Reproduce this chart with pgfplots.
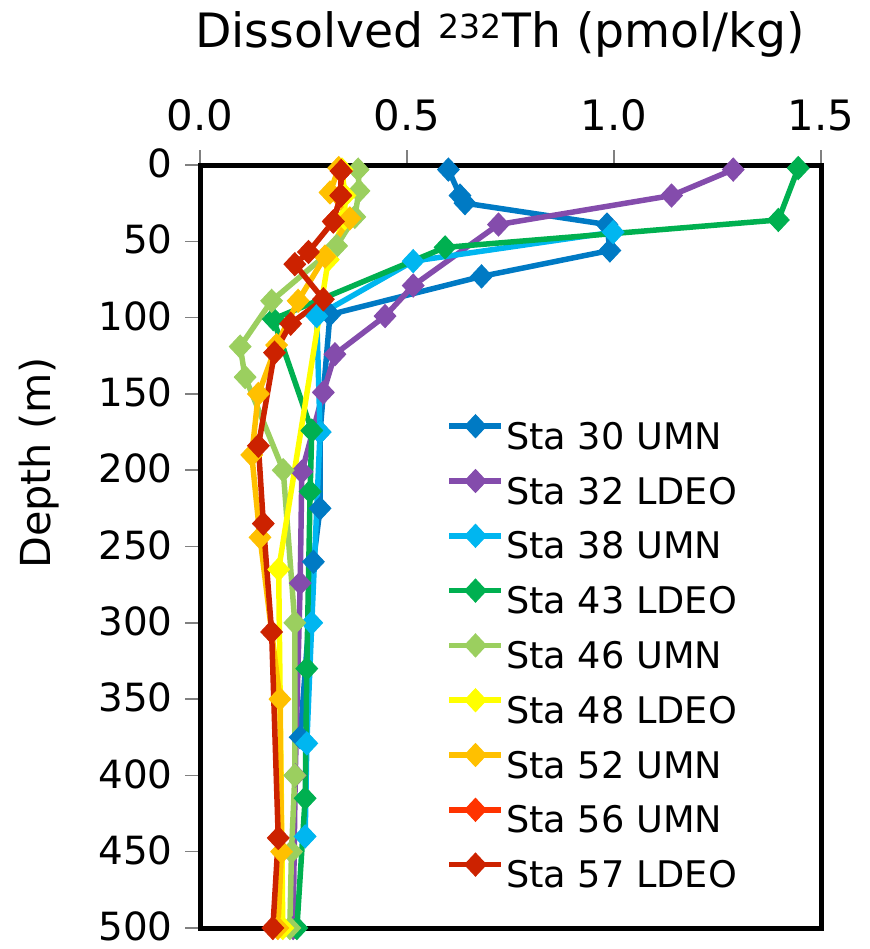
\documentclass[border=0pt]{standalone}
\usepackage{fontspec}
\setmainfont{DejaVu Sans}
\usepackage{pgfplots}
\pgfplotsset{compat=1.18}
\definecolor{c30}{RGB}{0,122,196}
\definecolor{c32}{RGB}{132,76,172}
\definecolor{c38}{RGB}{0,182,240}
\definecolor{c43}{RGB}{0,176,80}
\definecolor{c46}{RGB}{155,207,95}
\definecolor{c48}{RGB}{255,255,0}
\definecolor{c52}{RGB}{255,192,0}
\definecolor{c56}{RGB}{255,51,0}
\definecolor{c57}{RGB}{204,34,0}
\begin{document}
\begin{tikzpicture}
\path[use as bounding box] (0,0) rectangle (870bp,949bp);
\begin{axis}[
  at={(200bp,21bp)}, anchor=south west,
  scale only axis, width=621bp, height=763bp,
  xmin=0, xmax=1.5, ymin=0, ymax=500, y dir=reverse,
  clip=false,
  axis line style={line width=5bp, black},
  xtick={0,0.5,1,1.5}, ytick={0,50,...,500},
  xtick pos=right, xticklabel pos=right, ytick pos=left,
  tick align=outside, major tick length=15bp,
  tick style={line width=1.5bp, color=gray},
  xticklabel style={/pgf/number format/.cd, fixed, fixed zerofill, precision=1, /tikz/.cd, yshift=15bp, font=\fontsize{42}{50}\selectfont},
  yticklabel style={xshift=-9bp, yshift=1.5bp, font=\fontsize{39}{47}\selectfont},
  /pgf/number format/assume math mode=true,
  every axis plot/.append style={line width=5.5bp, mark=diamond*, mark size=11.5bp, mark options={solid, line width=1bp, xscale=1.25}},
  legend cell align=left,
  legend style={at={(axis description cs:0.397,0.673)}, anchor=north west, draw=none, fill=none,
    font=\fontsize{36.8}{44}\selectfont, inner sep=0bp, row sep=13.3bp, column sep=2bp,
    nodes={inner sep=0bp, text height=27bp, text depth=7bp}},
  legend image code/.code={\draw[mark repeat=2, mark phase=2, #1] plot coordinates {(0bp,13bp) (26bp,13bp) (52bp,13bp)};},
]
\addplot[color=c30] coordinates {(0.60,3) (0.628,20) (0.640,25) (0.983,39) (0.99,56) (0.68,73) (0.314,98) (0.29,175) (0.29,225) (0.274,260) (0.242,375)};
\addlegendentry{Sta 30 UMN}
\addplot[color=c32] coordinates {(1.288,3) (1.139,20) (0.721,39) (0.515,79) (0.447,99) (0.326,124) (0.298,149) (0.246,201) (0.242,274) (0.23,400) (0.225,500)};
\addlegendentry{Sta 32 LDEO}
\addplot[color=c38] coordinates {(0.998,44) (0.515,63) (0.282,99) (0.29,175) (0.27,300) (0.258,379) (0.254,440)};
\addlegendentry{Sta 38 UMN}
\addplot[color=c43] coordinates {(1.445,2) (1.397,36) (0.592,54) (0.177,101) (0.27,174) (0.266,214) (0.258,330) (0.254,415) (0.234,500)};
\addlegendentry{Sta 43 LDEO}
\addplot[color=c46] coordinates {(0.382,3) (0.384,17) (0.374,34) (0.330,53) (0.173,89) (0.097,119) (0.109,139) (0.201,200) (0.229,300) (0.229,400) (0.221,450) (0.217,500)};
\addlegendentry{Sta 46 UMN}
\addplot[color=c48] coordinates {(0.343,3) (0.35,20) (0.35,35) (0.31,62) (0.19,265) (0.20,500)};
\addlegendentry{Sta 48 LDEO}
\addplot[color=c52] coordinates {(0.335,2) (0.314,18) (0.362,35) (0.302,60) (0.237,89) (0.185,118) (0.141,150) (0.125,190) (0.145,244) (0.193,350) (0.197,450) (0.188,500)};
\addlegendentry{Sta 52 UMN}
\addplot[color=c56] coordinates {(0.341,4) (0.340,20) (0.322,37)};
\addlegendentry{Sta 56 UMN}
\addplot[color=c57] coordinates {(0.341,4) (0.340,20) (0.322,37) (0.262,57) (0.229,65) (0.298,88) (0.219,104) (0.18,123) (0.141,184) (0.153,235) (0.173,306) (0.189,441) (0.176,500)};
\addlegendentry{Sta 57 LDEO}
\end{axis}
\node[anchor=base, font=\fontsize{47.5}{57}\selectfont] at (500bp,901bp) {Dissolved \textsuperscript{232}Th (pmol/kg)};
\node[rotate=90, font=\fontsize{41.5}{50}\selectfont] at (39bp,486bp) {Depth (m)};
\end{tikzpicture}
\end{document}
